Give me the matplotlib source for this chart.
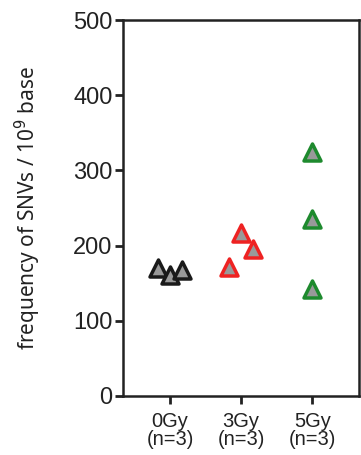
import numpy as np
import matplotlib
matplotlib.use("Agg")
from matplotlib import pyplot as plt

plt.rcParams['font.family'] = ['Liberation Sans', 'DejaVu Sans']

groups = ["0Gy\n(n=3)", "3Gy\n(n=3)", "5Gy\n(n=3)"]
offsets = [[-0.17, 0.0, 0.17], [-0.17, 0.0, 0.17], [0.0, 0.0, 0.0]]
values = [[170, 161, 167], [172, 217, 196], [324, 235, 142]]
edge_colors = ["#1a1a1a", "#ee2222", "#1e8a2e"]

fig = plt.figure(figsize=(3.61, 4.55), dpi=100)
ax = fig.add_axes([0.341, 0.13, 0.654, 0.826])

for i, (offs, vals, ec) in enumerate(zip(offsets, values, edge_colors)):
    xs = [i + 1 + o for o in offs]
    ax.scatter(xs, vals, marker="^", s=150, facecolor="#999999",
               edgecolor=ec, linewidths=2.5, zorder=3, clip_on=False)

ax.set_xlim(0.34, 3.66)
ax.set_ylim(0, 500)
ax.set_yticks([0, 100, 200, 300, 400, 500])
ax.set_xticks([1, 2, 3])
ax.set_xticklabels(groups, fontsize=14.5, linespacing=0.92)
ax.tick_params(axis="y", labelsize=17, width=2, length=6, pad=1.5, colors="#222222")
ax.tick_params(axis="x", width=2, length=5.5, pad=6, colors="#222222")
for s in ax.spines.values():
    s.set_linewidth(1.8)
    s.set_color("#222222")
ax.set_ylabel("frequency of SNVs / 10$^9$ base", fontsize=15,
              family=["Noto Sans", "DejaVu Sans"], labelpad=22, color="#222222")

fig.savefig("out.png", dpi=100)
